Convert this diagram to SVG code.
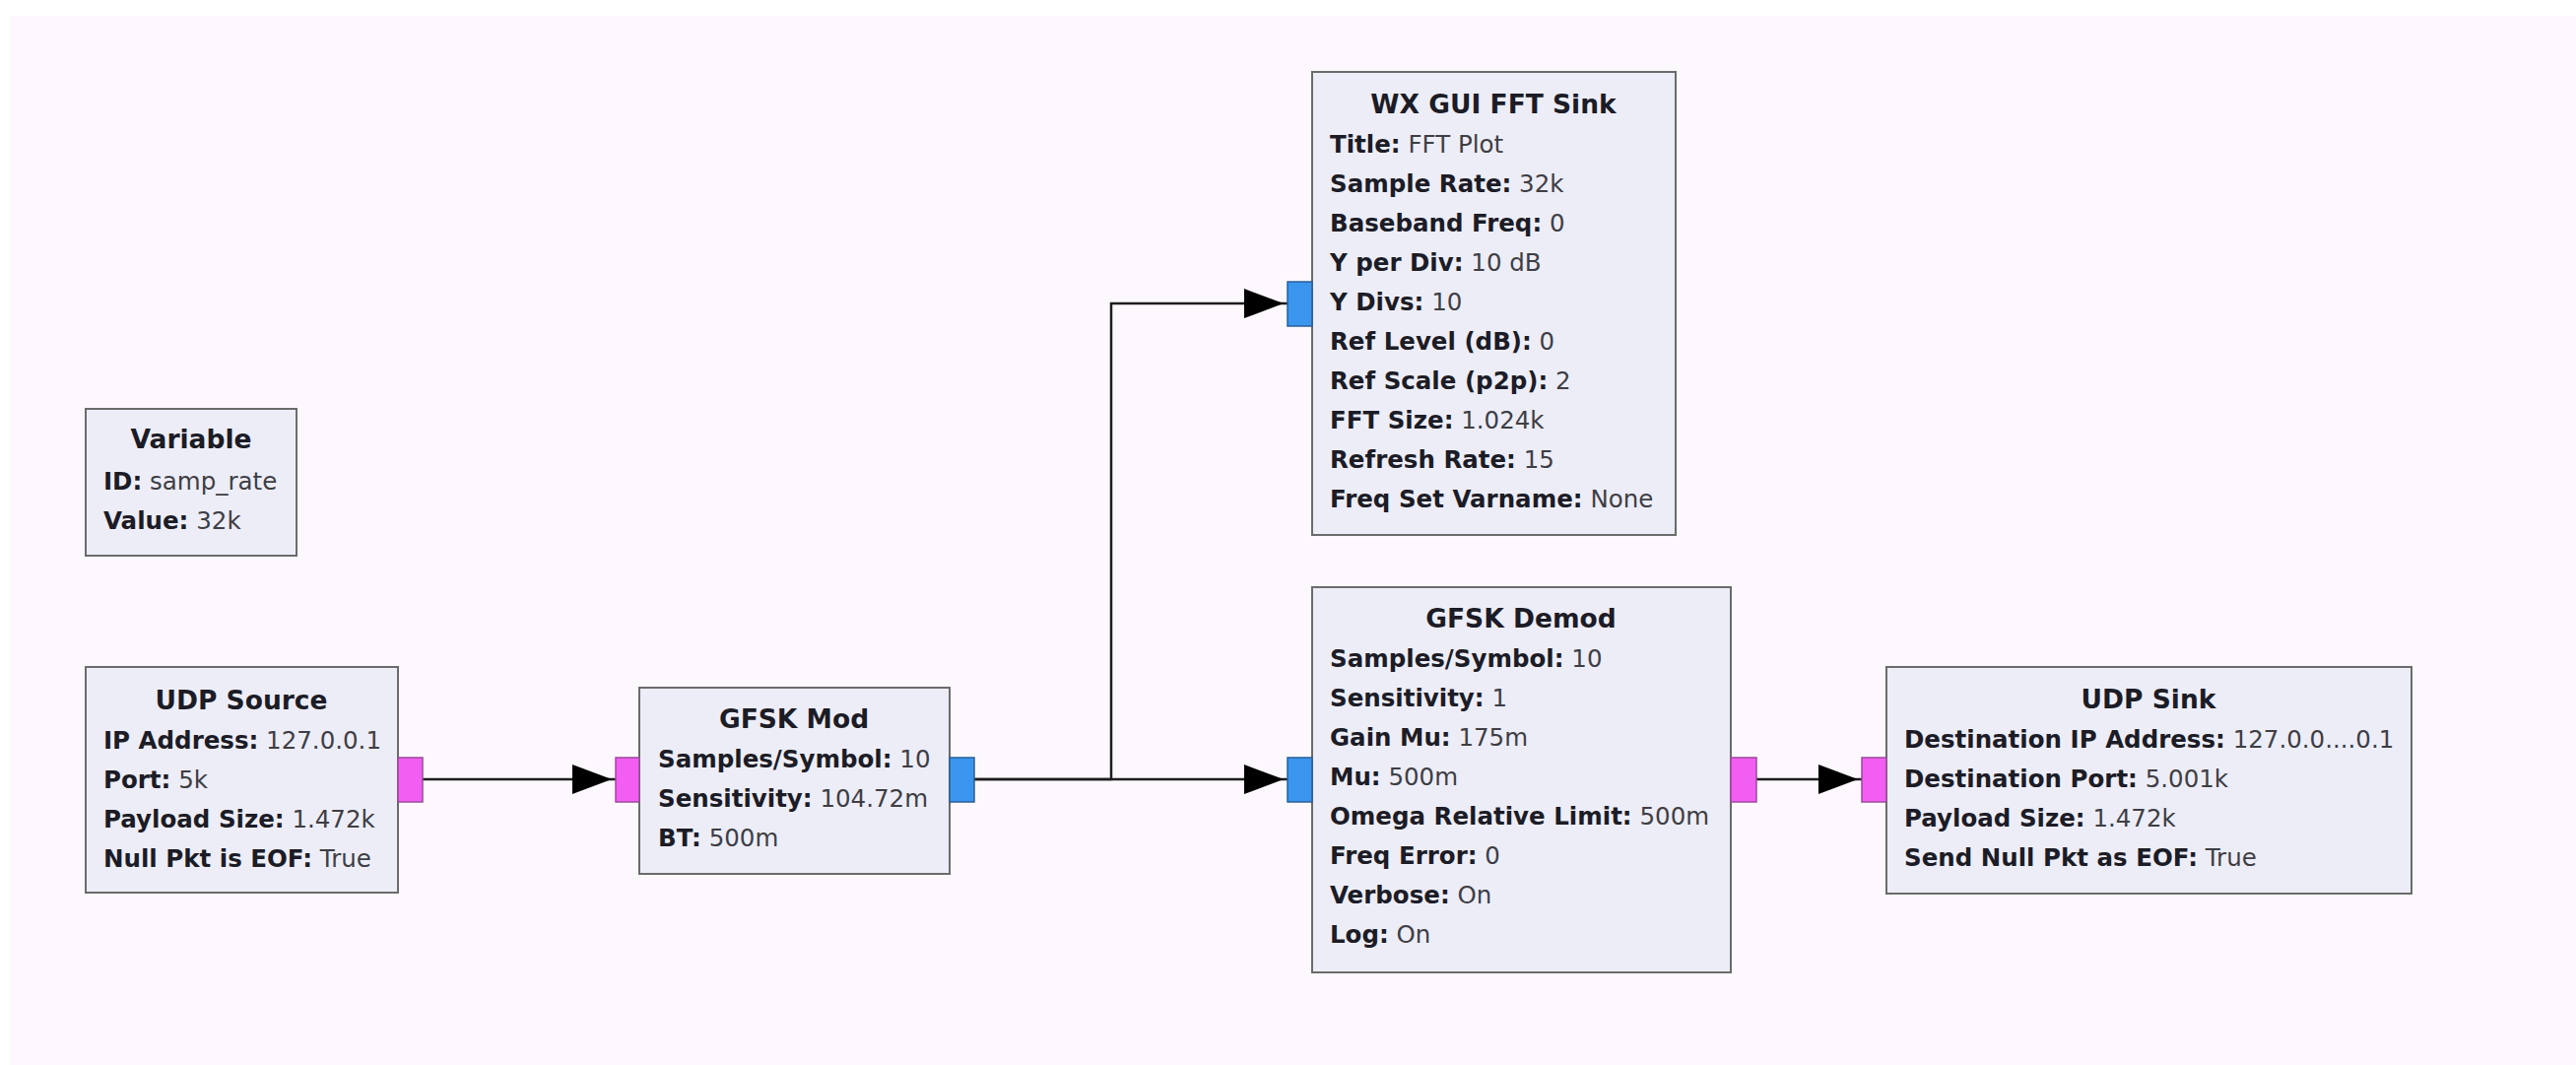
<svg xmlns="http://www.w3.org/2000/svg" width="2615" height="1081" viewBox="0 0 2615 1081">
<defs>
<style>
.bg { fill:#fdf8fd; }
.blk { fill:#ededf8; stroke:#6b6b6b; stroke-width:2; }
.ttl { font-family:"DejaVu Sans", "Liberation Sans", sans-serif; font-weight:bold; font-size:26.5px; fill:#1c1c26; text-anchor:middle; }
.prm { font-family:"DejaVu Sans", "Liberation Sans", sans-serif; font-size:24.5px; fill:#3e3e44; }
.k { font-weight:bold; fill:#1c1c26; }
.pk { fill:#f25ef2; stroke:#9a4a9a; stroke-width:1.5; }
.pb { fill:#3a95ee; stroke:#2a5f96; stroke-width:1.5; }
.wire { stroke:#1e1e1e; stroke-width:2.5; fill:none; marker-end:url(#arr); }
</style>
<marker id="arr" markerUnits="userSpaceOnUse" markerWidth="46" markerHeight="32" refX="44" refY="16" orient="auto">
<path d="M0,1 L40,16 L0,31 z" fill="#000"/>
</marker>
</defs>
<rect x="0" y="0" width="2615" height="1081" fill="#ffffff"/>
<rect class="bg" x="10" y="16" width="2605" height="1065"/>

<g id="connectors">
<path class="wire" d="M429,791 H625"/>
<path class="wire" d="M989,791 H1307"/>
<path class="wire" d="M989,791 H1128 V308 H1307"/>
<path class="wire" d="M1783,791 H1890"/>
</g>

<g id="variable">
<rect class="blk" x="87" y="415" width="214" height="149"/>
<text class="ttl" x="194" y="455">Variable</text>
<text class="prm" x="105" y="497"><tspan class="k">ID:</tspan> samp_rate</text>
<text class="prm" x="105" y="537"><tspan class="k">Value:</tspan> 32k</text>
</g>

<g id="udp_source">
<rect class="blk" x="87" y="677" width="317" height="229"/>
<rect class="pk" x="404" y="769" width="25" height="45"/>
<text class="ttl" x="245" y="720">UDP Source</text>
<text class="prm" x="105" y="760"><tspan class="k">IP Address:</tspan> 127.0.0.1</text>
<text class="prm" x="105" y="800"><tspan class="k">Port:</tspan> 5k</text>
<text class="prm" x="105" y="840"><tspan class="k">Payload Size:</tspan> 1.472k</text>
<text class="prm" x="105" y="880"><tspan class="k">Null Pkt is EOF:</tspan> True</text>
</g>

<g id="gfsk_mod">
<rect class="blk" x="649" y="698" width="315" height="189"/>
<rect class="pk" x="625" y="769" width="24" height="45"/>
<rect class="pb" x="964" y="769" width="25" height="45"/>
<text class="ttl" x="806" y="739">GFSK Mod</text>
<text class="prm" x="668" y="779"><tspan class="k">Samples/Symbol:</tspan> 10</text>
<text class="prm" x="668" y="819"><tspan class="k">Sensitivity:</tspan> 104.72m</text>
<text class="prm" x="668" y="859"><tspan class="k">BT:</tspan> 500m</text>
</g>

<g id="fft_sink">
<rect class="blk" x="1332" y="73" width="369" height="470"/>
<rect class="pb" x="1307" y="286" width="25" height="45"/>
<text class="ttl" x="1516" y="115">WX GUI FFT Sink</text>
<text class="prm" x="1350" y="155"><tspan class="k">Title:</tspan> FFT Plot</text>
<text class="prm" x="1350" y="195"><tspan class="k">Sample Rate:</tspan> 32k</text>
<text class="prm" x="1350" y="235"><tspan class="k">Baseband Freq:</tspan> 0</text>
<text class="prm" x="1350" y="275"><tspan class="k">Y per Div:</tspan> 10 dB</text>
<text class="prm" x="1350" y="315"><tspan class="k">Y Divs:</tspan> 10</text>
<text class="prm" x="1350" y="355"><tspan class="k">Ref Level (dB):</tspan> 0</text>
<text class="prm" x="1350" y="395"><tspan class="k">Ref Scale (p2p):</tspan> 2</text>
<text class="prm" x="1350" y="435"><tspan class="k">FFT Size:</tspan> 1.024k</text>
<text class="prm" x="1350" y="475"><tspan class="k">Refresh Rate:</tspan> 15</text>
<text class="prm" x="1350" y="515"><tspan class="k">Freq Set Varname:</tspan> None</text>
</g>

<g id="gfsk_demod">
<rect class="blk" x="1332" y="596" width="425" height="391"/>
<rect class="pb" x="1307" y="769" width="25" height="45"/>
<rect class="pk" x="1757" y="769" width="26" height="45"/>
<text class="ttl" x="1544" y="637">GFSK Demod</text>
<text class="prm" x="1350" y="677"><tspan class="k">Samples/Symbol:</tspan> 10</text>
<text class="prm" x="1350" y="717"><tspan class="k">Sensitivity:</tspan> 1</text>
<text class="prm" x="1350" y="757"><tspan class="k">Gain Mu:</tspan> 175m</text>
<text class="prm" x="1350" y="797"><tspan class="k">Mu:</tspan> 500m</text>
<text class="prm" x="1350" y="837"><tspan class="k">Omega Relative Limit:</tspan> 500m</text>
<text class="prm" x="1350" y="877"><tspan class="k">Freq Error:</tspan> 0</text>
<text class="prm" x="1350" y="917"><tspan class="k">Verbose:</tspan> On</text>
<text class="prm" x="1350" y="957"><tspan class="k">Log:</tspan> On</text>
</g>

<g id="udp_sink">
<rect class="blk" x="1915" y="677" width="533" height="230"/>
<rect class="pk" x="1890" y="769" width="25" height="45"/>
<text class="ttl" x="2181" y="719">UDP Sink</text>
<text class="prm" x="1933" y="759"><tspan class="k">Destination IP Address:</tspan> 127.0.0....0.1</text>
<text class="prm" x="1933" y="799"><tspan class="k">Destination Port:</tspan> 5.001k</text>
<text class="prm" x="1933" y="839"><tspan class="k">Payload Size:</tspan> 1.472k</text>
<text class="prm" x="1933" y="879"><tspan class="k">Send Null Pkt as EOF:</tspan> True</text>
</g>
</svg>
